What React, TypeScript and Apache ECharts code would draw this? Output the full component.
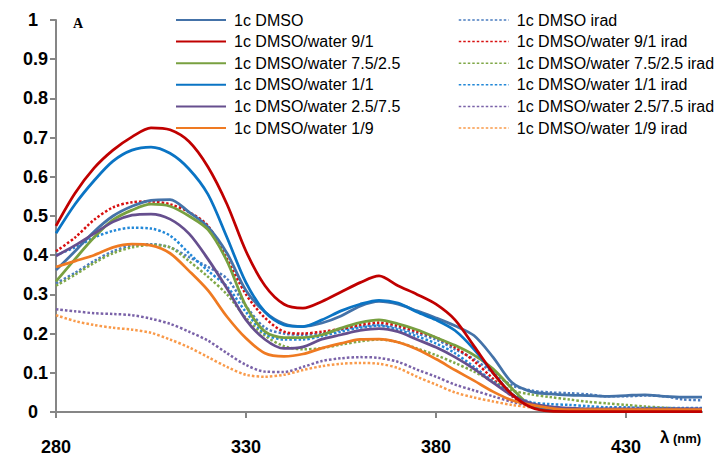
import React, { useEffect, useRef } from "react";
import * as echarts from "echarts";

const wavelengths = [280, 285, 290, 295, 300, 305, 310, 315, 320, 325, 330, 335, 340, 345, 350, 355, 360, 365, 370, 375, 380, 385, 390, 395, 400, 405, 410, 415, 420, 425, 430, 435, 440, 445, 450];

const seriesNames = [
  "1c DMSO",
  "1c DMSO/water 9/1",
  "1c DMSO/water 7.5/2.5",
  "1c DMSO/water 1/1",
  "1c DMSO/water 2.5/7.5",
  "1c DMSO/water 1/9",
];
const iradNames = [
  "1c DMSO irad",
  "1c DMSO/water 9/1 irad",
  "1c DMSO/water 7.5/2.5 irad",
  "1c DMSO/water 1/1 irad",
  "1c DMSO/water 2.5/7.5 irad",
  "1c DMSO/water 1/9 irad",
];

const dmso = [0.362, 0.41, 0.46, 0.5, 0.525, 0.54, 0.542, 0.51, 0.472, 0.405, 0.31, 0.255, 0.225, 0.218, 0.227, 0.245, 0.27, 0.282, 0.275, 0.258, 0.24, 0.22, 0.195, 0.14, 0.075, 0.052, 0.046, 0.043, 0.042, 0.04, 0.042, 0.044, 0.04, 0.038, 0.038];
const w91 = [0.475, 0.558, 0.622, 0.668, 0.702, 0.725, 0.72, 0.69, 0.625, 0.53, 0.41, 0.322, 0.275, 0.265, 0.282, 0.306, 0.33, 0.347, 0.322, 0.3, 0.275, 0.235, 0.168, 0.1, 0.045, 0.012, 0.002, 0.001, 0.001, 0.001, 0.001, 0.001, 0.001, 0.001, 0.001];
const w7525 = [0.333, 0.39, 0.445, 0.49, 0.515, 0.53, 0.525, 0.5, 0.465, 0.385, 0.27, 0.205, 0.19, 0.19, 0.197, 0.214, 0.228, 0.235, 0.225, 0.21, 0.19, 0.17, 0.145, 0.11, 0.06, 0.015, 0.003, 0.001, 0.001, 0.001, 0.001, 0.001, 0.001, 0.001, 0.001];
const w11 = [0.456, 0.53, 0.59, 0.64, 0.668, 0.676, 0.66, 0.62, 0.555, 0.445, 0.33, 0.255, 0.222, 0.218, 0.235, 0.258, 0.275, 0.285, 0.278, 0.255, 0.235, 0.208, 0.16, 0.1, 0.045, 0.018, 0.008, 0.005, 0.004, 0.004, 0.003, 0.003, 0.003, 0.003, 0.003];
const w2575 = [0.398, 0.425, 0.455, 0.485, 0.502, 0.505, 0.492, 0.455, 0.39, 0.315, 0.235, 0.185, 0.162, 0.166, 0.186, 0.197, 0.208, 0.213, 0.205, 0.185, 0.165, 0.14, 0.11, 0.075, 0.042, 0.022, 0.014, 0.01, 0.008, 0.008, 0.008, 0.008, 0.008, 0.008, 0.008];
const w19 = [0.37, 0.385, 0.4, 0.42, 0.428, 0.425, 0.405, 0.36, 0.31, 0.243, 0.188, 0.15, 0.142, 0.148, 0.163, 0.175, 0.185, 0.186, 0.178, 0.16, 0.135, 0.107, 0.08, 0.052, 0.03, 0.018, 0.01, 0.006, 0.006, 0.006, 0.006, 0.006, 0.006, 0.006, 0.006];

const dmsoIrad = [0.328, 0.355, 0.385, 0.41, 0.425, 0.428, 0.42, 0.395, 0.37, 0.34, 0.27, 0.215, 0.2, 0.197, 0.2, 0.21, 0.218, 0.222, 0.215, 0.2, 0.185, 0.16, 0.135, 0.1, 0.068, 0.055, 0.05, 0.048, 0.045, 0.04, 0.04, 0.042, 0.04, 0.032, 0.03];
const w91Irad = [0.41, 0.445, 0.49, 0.522, 0.535, 0.537, 0.53, 0.51, 0.475, 0.39, 0.3, 0.24, 0.205, 0.2, 0.205, 0.212, 0.222, 0.228, 0.22, 0.205, 0.19, 0.165, 0.13, 0.085, 0.04, 0.015, 0.005, 0.002, 0.001, 0.001, 0.001, 0.001, 0.001, 0.001, 0.001];
const w7525Irad = [0.322, 0.35, 0.38, 0.405, 0.42, 0.426, 0.42, 0.385, 0.345, 0.3, 0.24, 0.195, 0.168, 0.16, 0.163, 0.172, 0.18, 0.185, 0.178, 0.162, 0.145, 0.125, 0.103, 0.078, 0.055, 0.045, 0.038, 0.032, 0.026, 0.022, 0.018, 0.014, 0.011, 0.008, 0.007];
const w11Irad = [0.4, 0.42, 0.445, 0.462, 0.47, 0.468, 0.45, 0.405, 0.36, 0.32, 0.255, 0.2, 0.185, 0.185, 0.194, 0.205, 0.215, 0.22, 0.21, 0.193, 0.175, 0.15, 0.115, 0.078, 0.045, 0.025, 0.02, 0.018, 0.015, 0.012, 0.012, 0.01, 0.01, 0.01, 0.01];
const w2575Irad = [0.262, 0.257, 0.252, 0.25, 0.247, 0.238, 0.225, 0.205, 0.182, 0.15, 0.12, 0.103, 0.102, 0.115, 0.13, 0.137, 0.14, 0.138, 0.128, 0.108, 0.09, 0.07, 0.055, 0.04, 0.026, 0.016, 0.011, 0.008, 0.008, 0.008, 0.008, 0.008, 0.008, 0.008, 0.008];
const w19Irad = [0.247, 0.232, 0.222, 0.215, 0.21, 0.202, 0.185, 0.165, 0.14, 0.115, 0.095, 0.09, 0.095, 0.107, 0.117, 0.123, 0.125, 0.123, 0.112, 0.09, 0.07, 0.05, 0.037, 0.027, 0.018, 0.012, 0.008, 0.005, 0.005, 0.005, 0.005, 0.005, 0.005, 0.005, 0.005];

const xTicks = [280, 330, 380, 430];

const solidData = [dmso, w91, w7525, w11, w2575, w19];
const iradData = [dmsoIrad, w91Irad, w7525Irad, w11Irad, w2575Irad, w19Irad];
const solidColors = ["#4472A8", "#C00000", "#78A040", "#0A74C4", "#664F8E", "#EF7A22"];
const iradColors = ["#4A7CC0", "#D81010", "#80A848", "#2288D8", "#7A62A8", "#F99A4A"];

const FONT = "'Liberation Sans', Arial, sans-serif";

export default function App() {
  const ref = useRef<HTMLDivElement>(null);
  useEffect(() => {
    document.body.style.margin = "0";
    if (!ref.current) return;
    const chart = echarts.init(ref.current, null, { renderer: "svg" });
    const pair = (arr: number[]) => wavelengths.map((w, i) => [w, arr[i]]);
    const series: any[] = [];
    iradData.forEach((d, i) => {
      series.push({
        name: iradNames[i],
        type: "line",
        data: pair(d),
        symbol: "circle",
        showSymbol: false,
        smooth: 0.3,
        z: 2,
        lineStyle: { color: iradColors[i], width: 2.5, type: [2.5, 2] },
        itemStyle: { color: iradColors[i] },
      });
    });
    solidData.forEach((d, i) => {
      series.push({
        name: seriesNames[i],
        type: "line",
        data: pair(d),
        symbol: "circle",
        showSymbol: false,
        smooth: 0.3,
        z: i === 1 ? 4 : 3,
        lineStyle: { color: solidColors[i], width: 2.75 },
        itemStyle: { color: solidColors[i] },
      });
    });
    const legendBase = {
      orient: "vertical",
      top: 12,
      padding: 0,
      itemWidth: 50,
      itemHeight: 14,
      itemGap: 5.6,
      selectedMode: false,
      itemStyle: { opacity: 0 },
      textStyle: { fontFamily: FONT, fontSize: 16, lineHeight: 16, color: "#000", padding: [0, 0, 0, 3] },
    };
    chart.setOption({
      animation: false,
      backgroundColor: "#fff",
      grid: { left: 56, right: 21, top: 20, bottom: 46, containLabel: false, outerBoundsMode: "none" },
      legend: [
        { ...legendBase, left: 175, data: seriesNames },
        { ...legendBase, left: 458, data: iradNames, lineStyle: { width: 1.5 } },
      ],
      xAxis: {
        type: "value",
        min: 280,
        max: 450,
        splitLine: { show: false },
        axisLine: { show: true, lineStyle: { color: "#868686", width: 2 } },
        axisTick: { show: true, length: 6, lineStyle: { color: "#868686", width: 2 }, customValues: xTicks },
        axisLabel: {
          customValues: xTicks,
          margin: 26,
          fontFamily: FONT,
          fontWeight: "bold",
          fontSize: 18,
          color: "#000",
        },
      },
      yAxis: {
        type: "value",
        min: 0,
        max: 1,
        interval: 0.1,
        splitLine: { show: false },
        axisLine: { show: true, lineStyle: { color: "#868686", width: 2 } },
        axisTick: { show: true, length: 6, lineStyle: { color: "#868686", width: 2 } },
        axisLabel: {
          margin: 8,
          fontFamily: FONT,
          fontWeight: "bold",
          fontSize: 18,
          color: "#000",
          formatter: (v: number) => {
            const r = Number(v.toFixed(1));
            return r === 0 || r === 1 ? `{i|${r}}` : `${r}`;
          },
          rich: {
            i: { fontFamily: FONT, fontWeight: "bold", fontSize: 18, color: "#000", padding: [0, 10, 0, 0] },
          },
        },
      },
      graphic: [
        {
          type: "text",
          left: 73,
          top: 16,
          style: { text: "A", font: "bold 14px 'Liberation Serif', 'Times New Roman', serif", fill: "#000" },
        },
        {
          type: "text",
          left: 660,
          top: 429,
          style: { text: "λ", font: "bold 17px 'Liberation Sans', Arial, sans-serif", fill: "#000" },
        },
        {
          type: "text",
          left: 673,
          top: 432,
          style: { text: "(nm)", font: "bold 13px 'Liberation Sans', Arial, sans-serif", fill: "#000" },
        },
      ],
      series,
    });
    return () => chart.dispose();
  }, []);
  return (
    <div
      ref={ref}
      style={{ position: "absolute", left: 0, top: 0, width: 723, height: 458, background: "#fff" }}
    />
  );
}
